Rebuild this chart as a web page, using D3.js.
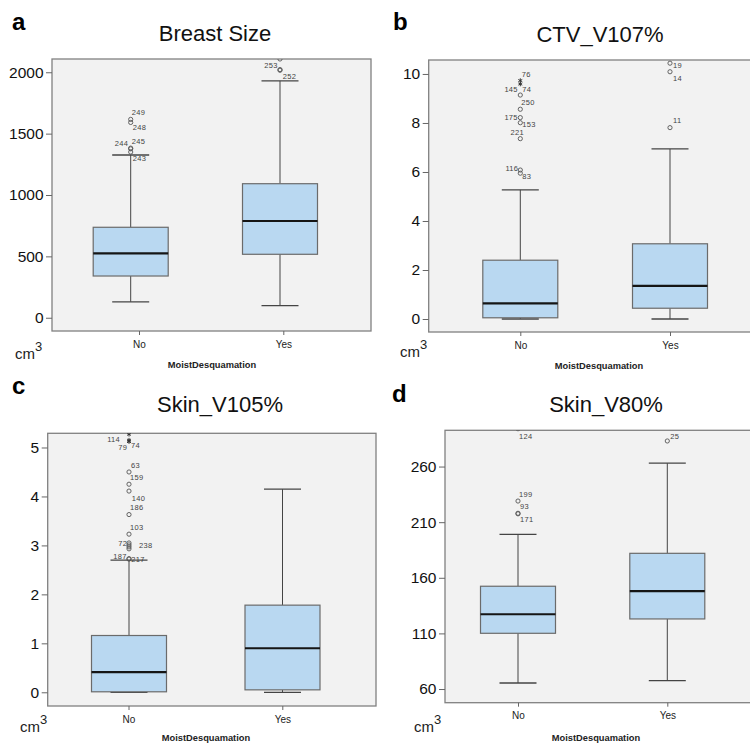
<!DOCTYPE html>
<html>
<head>
<meta charset="utf-8">
<title>Moist desquamation boxplots</title>
<script src="https://d3js.org/d3.v7.min.js"></script>
<style>
  body { margin: 0; background: #fff; }
  svg text { font-family: "Liberation Sans", Arial, sans-serif; }
</style>
</head>
<body>
<svg id="chart" width="750" height="743"></svg>
<script>
const groups = ["No", "Yes"];

// box stats: [low whisker, Q1, median, Q3, high whisker] for No, Yes
const breastBox = [[130, 340, 525, 737, 1326], [98, 517, 788, 1092, 1930]];
const ctvBox    = [[0, 0.05, 0.64, 2.4, 5.27], [0, 0.44, 1.35, 3.07, 6.94]];
const v105Box   = [[0, 0.01, 0.41, 1.16, 2.70], [0, 0.05, 0.90, 1.78, 4.15]];
const v80Box    = [[65.4, 110.1, 127.2, 152.4, 199.1], [67.5, 123, 148.1, 182, 263]];

// outliers: [group, value, case id, extreme]
const breastOut = [["No",1616,"249",0],["No",1591,"248",0],["No",1382,"245",0],["No",1376,"244",0],
  ["No",1350,"243",0],["Yes",2108,"",0],["Yes",2022,"253",0],["Yes",2016,"252",0]];
const ctvOut = [["No",9.73,"76",1],["No",9.59,"145",1],["No",9.14,"74",0],["No",8.56,"250",0],
  ["No",8.22,"175",0],["No",8.01,"153",0],["No",7.36,"221",0],["No",6.08,"116",0],["No",5.95,"83",0],
  ["Yes",10.44,"19",0],["Yes",10.09,"14",0],["Yes",7.81,"11",0]];
const v105Out = [["No",5.27,"114",1],["No",5.15,"79",1],["No",5.12,"74",1],["No",4.50,"63",0],
  ["No",4.25,"159",0],["No",4.11,"140",0],["No",3.63,"186",0],["No",3.23,"103",0],["No",3.05,"72",0],
  ["No",3.01,"",0],["No",2.97,"",0],["No",2.93,"238",0],["No",2.73,"187",0],["No",2.72,"217",0]];
const v80Out = [["No",294,"124",0],["No",229,"199",0],["No",218,"93",0],["No",217.5,"171",0],["Yes",283,"25",0]];

const breastTicks = [0, 500, 1000, 1500, 2000];
const ctvTicks = [0, 2, 4, 6, 8, 10];
const v105Ticks = [0, 1, 2, 3, 4, 5];
const v80Ticks = [60, 110, 160, 210, 260];

// label placement for the case ids (dx, dy, anchor), same order as outliers
const breastLab = [[1,-4.5,"start"],[2,7.5,"start"],[1,-4.5,"start"],[-2.5,-3,"end"],[2,8.6,"start"],
  [0,0,"start"],[-2.3,-2,"end"],[2.7,8.6,"start"]];
const ctvLab = [[1.5,-3.3,"start"],[-2.5,8.3,"end"],[2,-2.8,"start"],[1,-4.3,"start"],[-2.5,2.4,"end"],
  [2,4,"start"],[-3,-3.7,"middle"],[-2,0.7,"end"],[2,6,"start"],[3,4.5,"start"],[3,9,"start"],[3,-4.4,"start"]];
const v105Lab = [[-9,7.6,"end"],[-1.7,10,"end"],[2,6.6,"start"],[2,-4,"start"],[1,-4,"start"],[2.7,9.8,"start"],
  [1,-4.4,"start"],[1,-4,"start"],[-1.7,3,"end"],[0,0,"start"],[0,0,"start"],[10,-0.4,"start"],
  [-2.3,0.8,"end"],[2.3,2.7,"start"]];
const v80Lab = [[1,10.2,"start"],[1,-4.4,"start"],[2,-4,"start"],[2,8.4,"start"],[3,-2,"start"]];

const panels = [
  {key:"a", title:"Breast Size", box:breastBox, out:breastOut, lab:breastLab, ticks:breastTicks,
   frame:[52,59,371,331], boxX:[130.7,280], tickX:[139,283.3], dom:[-108,2108],
   letter:[12,30], titleAt:[215,40.7], unit:[15,359], xlab:[212,368]},
  {key:"b", title:"CTV_V107%", box:ctvBox, out:ctvOut, lab:ctvLab, ticks:ctvTicks,
   frame:[428.7,60,765,332], boxX:[520.3,670], tickX:[520.3,670], dom:[-0.53,10.57],
   letter:[393,30], titleAt:[600,42], unit:[400,357], xlab:[599,369]},
  {key:"c", title:"Skin_V105%", box:v105Box, out:v105Out, lab:v105Lab, ticks:v105Ticks,
   frame:[47.7,433.3,376,706], boxX:[129,282.5], tickX:[128.5,282.3], dom:[-0.28,5.29],
   letter:[12,394], titleAt:[220,411.7], unit:[20,731.5], xlab:[206,741]},
  {key:"d", title:"Skin_V80%", box:v80Box, out:v80Out, lab:v80Lab, ticks:v80Ticks,
   frame:[445,430.3,765,702.7], boxX:[518,667.3], tickX:[518,667.3], dom:[47.7,292.6],
   letter:[392,401.5], titleAt:[606,411.7], unit:[414,732], xlab:[596,741]}
];

const svg = d3.select("#chart");
const boxW = 75, capW = 37;

panels.forEach(function(p) {
  const [x0, y0, x1, y1] = p.frame;
  const g = svg.append("g");
  const x = d3.scalePoint().domain(groups).range(p.boxX);
  const xt = d3.scalePoint().domain(groups).range(p.tickX);
  const y = d3.scaleLinear().domain(p.dom).range([y1, y0]);

  g.append("clipPath").attr("id", "clip-" + p.key)
    .append("rect").attr("x", x0).attr("y", y0).attr("width", x1 - x0).attr("height", y1 - y0);

  g.append("rect").attr("x", x0).attr("y", y0).attr("width", x1 - x0).attr("height", y1 - y0)
    .attr("fill", "#f2f2f2").attr("stroke", "#808080").attr("stroke-width", 1.3);

  // y axis
  const ya = g.append("g").attr("transform", "translate(" + x0 + ",0)")
    .call(d3.axisLeft(y).tickValues(p.ticks).tickSize(6).tickPadding(2.5).tickFormat(d3.format("d")));
  ya.select(".domain").remove();
  ya.selectAll("line").attr("stroke", "#666");
  ya.selectAll("text").attr("font-size", 15.5).attr("fill", "#111")
    .attr("font-family", "Liberation Sans, Arial, sans-serif");

  // x axis
  const xa = g.append("g").attr("transform", "translate(0," + y1 + ")")
    .call(d3.axisBottom(xt).tickSize(4).tickPadding(5.5));
  xa.select(".domain").remove();
  xa.selectAll("line").attr("stroke", "#666");
  xa.selectAll("text").attr("font-size", 10).attr("fill", "#222")
    .attr("font-family", "Liberation Sans, Arial, sans-serif");

  const plot = g.append("g").attr("clip-path", "url(#clip-" + p.key + ")");

  groups.forEach(function(grp, i) {
    const s = p.box[i];
    const cx = x(grp);
    // whiskers
    plot.append("line").attr("x1", cx).attr("x2", cx).attr("y1", y(s[0])).attr("y2", y(s[1]))
      .attr("stroke", "#444").attr("stroke-width", 1);
    plot.append("line").attr("x1", cx).attr("x2", cx).attr("y1", y(s[3])).attr("y2", y(s[4]))
      .attr("stroke", "#444").attr("stroke-width", 1);
    [s[0], s[4]].forEach(function(v) {
      plot.append("line").attr("x1", cx - capW / 2).attr("x2", cx + capW / 2)
        .attr("y1", y(v)).attr("y2", y(v)).attr("stroke", "#444").attr("stroke-width", 1.3);
    });
    // box
    plot.append("rect").attr("x", cx - boxW / 2).attr("width", boxW)
      .attr("y", y(s[3])).attr("height", y(s[1]) - y(s[3]))
      .attr("fill", "#b9d8f1").attr("stroke", "#6b6b6b").attr("stroke-width", 1.2);
    plot.append("line").attr("x1", cx - boxW / 2).attr("x2", cx + boxW / 2)
      .attr("y1", y(s[2])).attr("y2", y(s[2])).attr("stroke", "#151515").attr("stroke-width", 2.2);
  });

  // outliers
  p.out.forEach(function(o, i) {
    const cx = x(o[0]), cy = y(o[1]);
    if (o[3]) {
      plot.append("path").attr("d", d3.symbol(d3.symbolAsterisk, 14)())
        .attr("transform", "translate(" + cx + "," + cy + ")")
        .attr("stroke", "#333").attr("stroke-width", 1).attr("fill", "none");
    } else {
      plot.append("circle").attr("cx", cx).attr("cy", cy).attr("r", 2.1)
        .attr("fill", "none").attr("stroke", "#555").attr("stroke-width", 0.9);
    }
    if (o[2]) {
      const l = p.lab[i];
      plot.append("text").attr("x", cx + l[0]).attr("y", cy + l[1])
        .attr("text-anchor", l[2]).attr("font-size", 7.5).attr("fill", "#444")
        .attr("letter-spacing", 0.3).text(o[2]);
    }
  });

  // texts
  g.append("text").attr("x", p.letter[0]).attr("y", p.letter[1])
    .attr("font-size", 24).attr("font-weight", "bold").attr("fill", "#000").text(p.key);
  g.append("text").attr("x", p.titleAt[0]).attr("y", p.titleAt[1]).attr("text-anchor", "middle")
    .attr("font-size", 22).attr("fill", "#111").text(p.title);
  const u = g.append("text").attr("x", p.unit[0]).attr("y", p.unit[1]).attr("font-size", 15).attr("fill", "#222");
  u.append("tspan").text("cm");
  u.append("tspan").attr("dy", -8).attr("font-size", 13).text("3");
  g.append("text").attr("x", p.xlab[0]).attr("y", p.xlab[1]).attr("text-anchor", "middle")
    .attr("font-size", 9.3).attr("font-weight", "bold").attr("fill", "#222").text("MoistDesquamation");
});
</script>
</body>
</html>
